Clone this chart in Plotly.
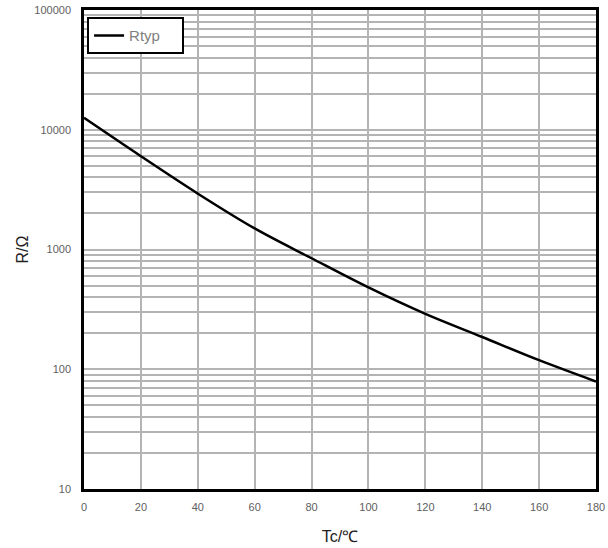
import plotly.graph_objects as go

temps = [0, 20, 40, 60, 80, 100, 120, 140, 160, 180]
r_typ = [12570, 6010, 2930, 1500, 845, 482, 290, 186, 119, 79]

y_major = [10, 100, 1000, 10000, 100000]
y_major_text = ["10", "100", "1000", "10000", "100000"]
y_minor = [m * d for d in [10, 100, 1000, 10000] for m in range(2, 10)]
x_ticks = list(range(0, 181, 20))

fig = go.Figure()
fig.add_trace(go.Scatter(
    x=temps, y=r_typ, mode="lines", name="Rtyp",
    line=dict(color="black", width=2.5, shape="spline", smoothing=1.0),
))

fig.update_layout(
    width=608, height=548,
    margin=dict(l=84, r=12, t=10, b=59, autoexpand=False),
    paper_bgcolor="white", plot_bgcolor="white",
    font=dict(family="Liberation Sans, Arial, sans-serif", color="#595959", size=11),
    legend=dict(
        orientation="h",
        x=0.006, y=0.985, xanchor="left", yanchor="top",
        bordercolor="black", borderwidth=2, bgcolor="white",
        font=dict(size=15, color="#808080"),
        entrywidth=48, entrywidthmode="pixels",
    ),
    showlegend=True,
)

tick_font = dict(family="Liberation Sans, Arial, sans-serif", size=11, color="#606060")

fig.update_xaxes(
    range=[0, 180], tickvals=x_ticks, ticktext=[str(v) for v in x_ticks],
    tickfont=tick_font, ticklabeloverflow="allow",
    showgrid=True, gridcolor="#b4b4b4", gridwidth=2,
    showline=True, linecolor="black", linewidth=2.5, mirror=True,
    ticks="", ticklabelstandoff=6, zeroline=False, automargin=False,
    title=dict(text="Tc/℃", font=dict(size=16, color="#222222"), standoff=19),
)
fig.update_yaxes(
    type="log", range=[1, 5],
    tickvals=y_major, ticktext=y_major_text,
    tickfont=tick_font, ticklabeloverflow="allow",
    showgrid=True, gridcolor="#b4b4b4", gridwidth=2,
    minor=dict(tickvals=y_minor, showgrid=True, gridcolor="#b4b4b4", gridwidth=2, ticks=""),
    showline=True, linecolor="black", linewidth=2.5, mirror=True,
    ticks="", ticklabelstandoff=8, zeroline=False, automargin=False,
    title=dict(text="R/Ω", font=dict(size=16, color="#222222"), standoff=2),
)

fig.write_html("out.html", config={"displayModeBar": False},
               post_script="document.body.style.margin='0';")
